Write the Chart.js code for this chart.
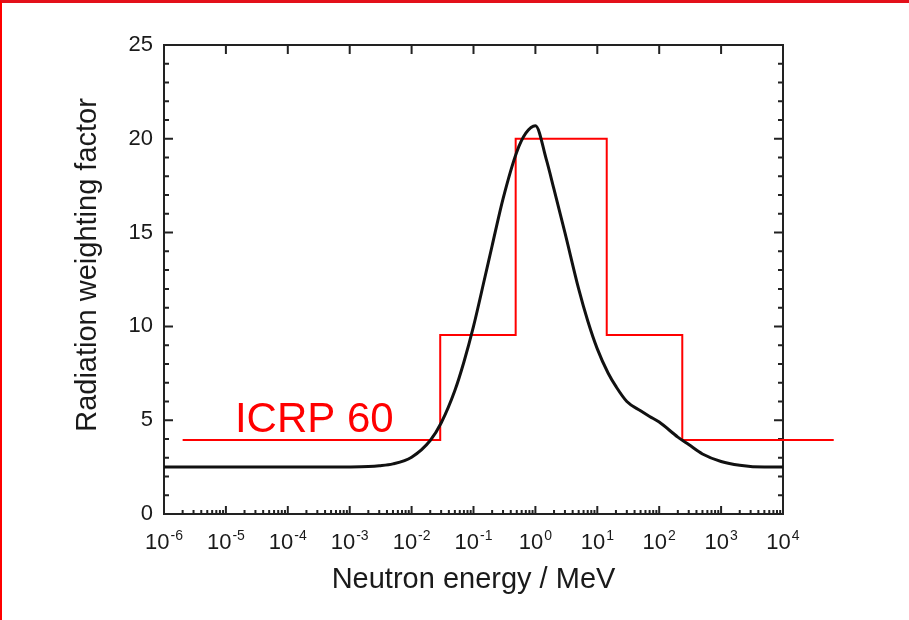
<!DOCTYPE html>
<html lang="en">
<head>
<meta charset="UTF-8">
<title>Radiation weighting factor</title>
<style>
  body { margin: 0; background: #fff; }
  .wrap { position: relative; width: 909px; height: 620px; }
  .wrap canvas { position: absolute; left: 0; top: 0; }
  .edge {
    position: absolute; left: 0; top: 0; width: 909px; height: 620px;
    box-sizing: border-box; border-left: 2px solid #f00; border-top: 3px solid #e3101a;
    pointer-events: none;
  }
</style>
<script src="https://cdn.jsdelivr.net/npm/chart.js"></script>
</head>
<body>
<div class="wrap">
  <canvas id="wrChart" width="909" height="620"></canvas>
  <div class="edge"></div>
</div>
<script>
// smooth (ICRP 103) curve
const energy = [1e-6, 1e-5, 1e-4, 1e-3, 2e-3, 3e-3, 5e-3, 1e-2, 2e-2, 3e-2, 5e-2, 7e-2,
                0.1, 0.15, 0.2, 0.3, 0.5, 0.7, 1, 1.5, 2, 3, 5, 7, 10, 15, 20, 30, 50, 70,
                100, 200, 300, 500, 1000, 2000, 5000, 1e4];
const weight = [2.5, 2.5, 2.5, 2.51, 2.53, 2.57, 2.67, 3.03, 3.92, 4.85, 6.58, 8.1,
                10.0, 12.5, 14.3, 16.8, 19.3, 20.3, 20.7, 18.9, 17.3, 15.0, 12.0, 10.3, 8.8, 7.5, 6.8, 6.0, 5.5, 5.2,
                4.9, 4.1, 3.7, 3.2, 2.8, 2.6, 2.5, 2.5];

// ICRP 60 step function, corner points
const stepEnergy = [2e-6, 0.029, 0.48, 14.2, 236, 6.6e4];
const stepWeight = [3.94, 9.54, 20.0, 9.54, 3.94, 3.94];

// axis ticks
const decades = [-6, -5, -4, -3, -2, -1, 0, 1, 2, 3, 4];
const yTickStep = 5;

Chart.defaults.font.family = "'Liberation Sans', Arial, sans-serif";
const ink = '#1a1a1a';
const fam = "'Liberation Sans', Arial, sans-serif";

const axisFrame = {
  id: 'axisFrame',
  beforeDatasetsDraw(chart) {
    const { ctx, chartArea: a, scales: { x, y } } = chart;
    ctx.save();
    ctx.strokeStyle = '#222';
    ctx.lineWidth = 2;
    ctx.strokeRect(a.left, a.top, a.right - a.left, a.bottom - a.top);
    ctx.beginPath();
    // left / right ticks, minor every 1, major every 5
    for (let v = y.min; v <= y.max; v++) {
      const py = y.getPixelForValue(v);
      const len = v % yTickStep === 0 ? 9 : 5;
      ctx.moveTo(a.left, py); ctx.lineTo(a.left + len, py);
      ctx.moveTo(a.right, py); ctx.lineTo(a.right - len, py);
    }
    // bottom: decades + 2..9 minors, top: decades only
    decades.forEach((e, i) => {
      const px = x.getPixelForValue(Math.pow(10, e));
      ctx.moveTo(px, a.bottom); ctx.lineTo(px, a.bottom - 8);
      ctx.moveTo(px, a.top); ctx.lineTo(px, a.top + 9);
      if (i < decades.length - 1) {
        for (let m = 2; m < 10; m++) {
          const mx = x.getPixelForValue(m * Math.pow(10, e));
          ctx.moveTo(mx, a.bottom); ctx.lineTo(mx, a.bottom - 4);
        }
      }
    });
    ctx.stroke();
    ctx.restore();
  },
  afterDraw(chart) {
    const { ctx, chartArea: a, scales: { x, y } } = chart;
    ctx.save();
    ctx.fillStyle = ink;
    ctx.textBaseline = 'alphabetic';
    ctx.textAlign = 'left';
    const baseFont = '22px ' + fam;
    const expFont = '14px ' + fam;
    decades.forEach(e => {
      const px = x.getPixelForValue(Math.pow(10, e));
      ctx.font = baseFont;
      const w1 = ctx.measureText('10').width;
      ctx.font = expFont;
      const w2 = ctx.measureText(String(e)).width;
      const start = px - (w1 + w2 + 1) / 2;
      ctx.font = baseFont;
      ctx.fillText('10', start, a.bottom + 35);
      ctx.font = expFont;
      ctx.fillText(String(e), start + w1 + 1, a.bottom + 26);
    });

    // y axis title, sits a bit above the middle in the original
    ctx.save();
    ctx.translate(a.left - 76, a.top + (a.bottom - a.top) * 0.469);
    ctx.rotate(-Math.PI / 2);
    ctx.textAlign = 'center';
    ctx.textBaseline = 'middle';
    ctx.font = '29px ' + fam;
    ctx.fillText('Radiation weighting factor', 0, 0);
    ctx.restore();

    // ICRP 60 label
    ctx.fillStyle = '#ff0000';
    ctx.font = '42px ' + fam;
    ctx.fillText('ICRP 60', x.getPixelForValue(1.4e-5), y.getPixelForValue(4.38));
    ctx.restore();
  }
};

new Chart(document.getElementById('wrChart'), {
  type: 'line',
  data: {
    datasets: [
      {
        label: 'ICRP 103',
        data: energy.map((e, i) => ({ x: e, y: weight[i] })),
        borderColor: '#111',
        borderWidth: 3,
        pointRadius: 0,
        cubicInterpolationMode: 'monotone'
      },
      {
        label: 'ICRP 60',
        data: stepEnergy.map((e, i) => ({ x: e, y: stepWeight[i] })),
        borderColor: '#ff0000',
        borderWidth: 2,
        pointRadius: 0,
        stepped: true,
        clip: false
      }
    ]
  },
  options: {
    responsive: false,
    animation: false,
    devicePixelRatio: 1,
    layout: { padding: { left: 60, right: 126, top: 45, bottom: 20 } },
    plugins: { legend: { display: false }, tooltip: { enabled: false } },
    scales: {
      x: {
        type: 'logarithmic',
        min: 1e-6,
        max: 1e4,
        ticks: { display: false },
        grid: { display: false, drawTicks: false },
        border: { display: false },
        title: {
          display: true, text: 'Neutron energy / MeV', color: ink,
          font: { size: 29 }, padding: { top: 0, bottom: 3 }
        },
        afterFit(s) { s.height = 86; }
      },
      y: {
        min: 0,
        max: 25,
        ticks: { stepSize: yTickStep, color: ink, font: { size: 22 }, padding: 11 },
        grid: { display: false, drawTicks: false },
        border: { display: false },
        afterFit(s) { s.width = 104; }
      }
    }
  },
  plugins: [axisFrame]
});
</script>
</body>
</html>
